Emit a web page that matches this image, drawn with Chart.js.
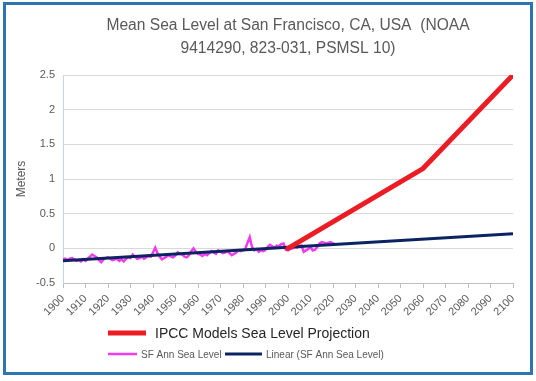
<!DOCTYPE html>
<html>
<head>
<meta charset="utf-8">
<script src="https://cdn.jsdelivr.net/npm/chart.js@4.4.1/dist/chart.umd.min.js"></script>
<style>
  html, body { margin: 0; padding: 0; background: #fff; }
  #wrap { width: 536px; height: 381px; position: relative; }
</style>
</head>
<body>
<div id="wrap"><canvas id="myChart" width="536" height="381"></canvas></div>
<script>
const titleLines = ["Mean Sea Level at San Francisco, CA, USA  (NOAA", "9414290, 823-031, PSMSL 10)"];

// annual mean sea level at SF (m), one value per year starting in 1900
const firstYear = 1900;
const seaLevel = [
  -0.16, -0.15, -0.17, -0.15, -0.14, -0.16, -0.18, -0.17, -0.19, -0.16,
  -0.18, -0.15, -0.12, -0.09, -0.11, -0.13, -0.17, -0.20, -0.16, -0.14,
  -0.13, -0.15, -0.17, -0.16, -0.15, -0.18, -0.16, -0.19, -0.15, -0.13,
  -0.14, -0.09, -0.12, -0.15, -0.14, -0.12, -0.15, -0.13, -0.11, -0.12,
  -0.06, 0.01, -0.07, -0.12, -0.16, -0.14, -0.12, -0.10, -0.12, -0.13,
  -0.10, -0.06, -0.08, -0.09, -0.12, -0.13, -0.10, -0.04, 0.00, -0.05,
  -0.08, -0.09, -0.11, -0.08, -0.10, -0.07, -0.04, -0.06, -0.08, -0.03,
  -0.05, -0.07, -0.06, -0.04, -0.07, -0.10, -0.08, -0.06, -0.03, -0.04,
  -0.03, -0.01, 0.08, 0.16, 0.02, -0.03, -0.01, -0.05, -0.03, -0.04,
  -0.02, 0.02, 0.05, 0.03, 0.01, 0.04, 0.03, 0.06, 0.07, -0.02,
  -0.03, -0.01, 0.00, 0.02, 0.01, 0.03, 0.04, -0.05, -0.03, -0.01,
  0.02, -0.03, -0.02, 0.02, 0.07, 0.09, 0.08, 0.07, 0.08, 0.09,
  0.07, 0.06
];

// linear trendline of the SF series, as drawn across the whole axis
const trendYears = [1900, 2100];
const trendValues = [-0.18, 0.21];

// IPCC projection
const ipccYears = [2000, 2060, 2100];
const ipccValues = [0.0, 1.15, 2.5];

const xMin = 1900, xMax = 2100, xStep = 10;
const yMin = -0.5, yMax = 2.5, yStep = 0.5;

const legendItems = [
  { label: "IPCC Models Sea Level Projection", color: "#ec1c24" },
  { label: "SF Ann Sea Level", color: "#ee3cee" },
  { label: "Linear (SF Ann Sea Level)", color: "#0b2461" }
];

const toPoints = (xs, ys) => xs.map((x, i) => ({ x: x, y: ys[i] }));

const decorations = {
  id: "decorations",
  afterDraw(chart) {
    const ctx = chart.ctx;
    const area = chart.chartArea;
    ctx.save();
    // outer frame
    ctx.strokeStyle = "#2e75b6";
    ctx.lineWidth = 3;
    ctx.strokeRect(4.5, 3.5, 527, 370);

    // title
    const cx = (area.left + area.right) / 2;
    ctx.fillStyle = "#595959";
    ctx.font = "15.6px 'Liberation Sans'";
    ctx.textAlign = "center";
    ctx.textBaseline = "middle";
    ctx.fillText(titleLines[0], cx, 26);
    ctx.fillText(titleLines[1], cx, 49);

    // legend row 1
    ctx.textAlign = "left";
    ctx.lineCap = "butt";
    ctx.strokeStyle = legendItems[0].color;
    ctx.lineWidth = 5;
    ctx.beginPath(); ctx.moveTo(108, 333); ctx.lineTo(146, 333); ctx.stroke();
    ctx.fillStyle = "#262626";
    ctx.font = "14px 'Liberation Sans'";
    ctx.fillText(legendItems[0].label, 155, 334);

    // legend row 2
    ctx.font = "10px 'Liberation Sans'";
    ctx.fillStyle = "#595959";
    ctx.strokeStyle = legendItems[1].color;
    ctx.lineWidth = 2.5;
    ctx.beginPath(); ctx.moveTo(108, 354); ctx.lineTo(137, 354); ctx.stroke();
    ctx.fillText(legendItems[1].label, 141, 355);
    ctx.strokeStyle = legendItems[2].color;
    ctx.lineWidth = 3;
    ctx.beginPath(); ctx.moveTo(225, 354); ctx.lineTo(262, 354); ctx.stroke();
    ctx.fillText(legendItems[2].label, 266, 355);
    ctx.restore();
  }
};

new Chart(document.getElementById("myChart"), {
  type: "line",
  data: {
    datasets: [
      {
        label: legendItems[0].label,
        data: toPoints(ipccYears, ipccValues),
        borderColor: legendItems[0].color,
        borderWidth: 5,
        borderCapStyle: "round",
        pointRadius: 0,
      },
      {
        label: legendItems[2].label,
        data: toPoints(trendYears, trendValues),
        borderColor: legendItems[2].color,
        borderWidth: 3,
        pointRadius: 0,
      },
      {
        label: legendItems[1].label,
        data: seaLevel.map((v, i) => ({ x: firstYear + i, y: v })),
        borderColor: legendItems[1].color,
        borderWidth: 2.5,
        pointRadius: 0,
      },
    ],
  },
  options: {
    responsive: false,
    animation: false,
    layout: { padding: { left: 10, right: 23, top: 75, bottom: 58 } },
    plugins: {
      legend: { display: false },
      tooltip: { enabled: false },
    },
    scales: {
      x: {
        type: "linear",
        min: xMin,
        max: xMax,
        afterFit: (scale) => { scale.height = 40; },
        ticks: {
          stepSize: xStep,
          autoSkip: false,
          maxRotation: 45,
          minRotation: 45,
          padding: 4,
          color: "#595959",
          font: { family: "'Liberation Sans'", size: 11 },
          callback: (v) => String(v),
        },
        grid: {
          drawOnChartArea: false,
          drawTicks: true,
          tickLength: 5,
          color: "#bfbfbf",
        },
        border: { color: "#bfbfbf" },
      },
      y: {
        min: yMin,
        max: yMax,
        afterFit: (scale) => { scale.width = 53; },
        title: {
          display: true,
          text: "Meters",
          color: "#595959",
          font: { family: "'Liberation Sans'", size: 12 },
          padding: { top: 4, bottom: 0 },
        },
        ticks: {
          stepSize: yStep,
          padding: 8,
          color: "#595959",
          font: { family: "'Liberation Sans'", size: 11 },
          callback: (v) => String(Math.round(v * 10) / 10),
        },
        grid: { color: "#d9d9d9", drawTicks: false },
        border: { color: "#c6d6ea" },
      },
    },
  },
  plugins: [decorations],
});
</script>
</body>
</html>
